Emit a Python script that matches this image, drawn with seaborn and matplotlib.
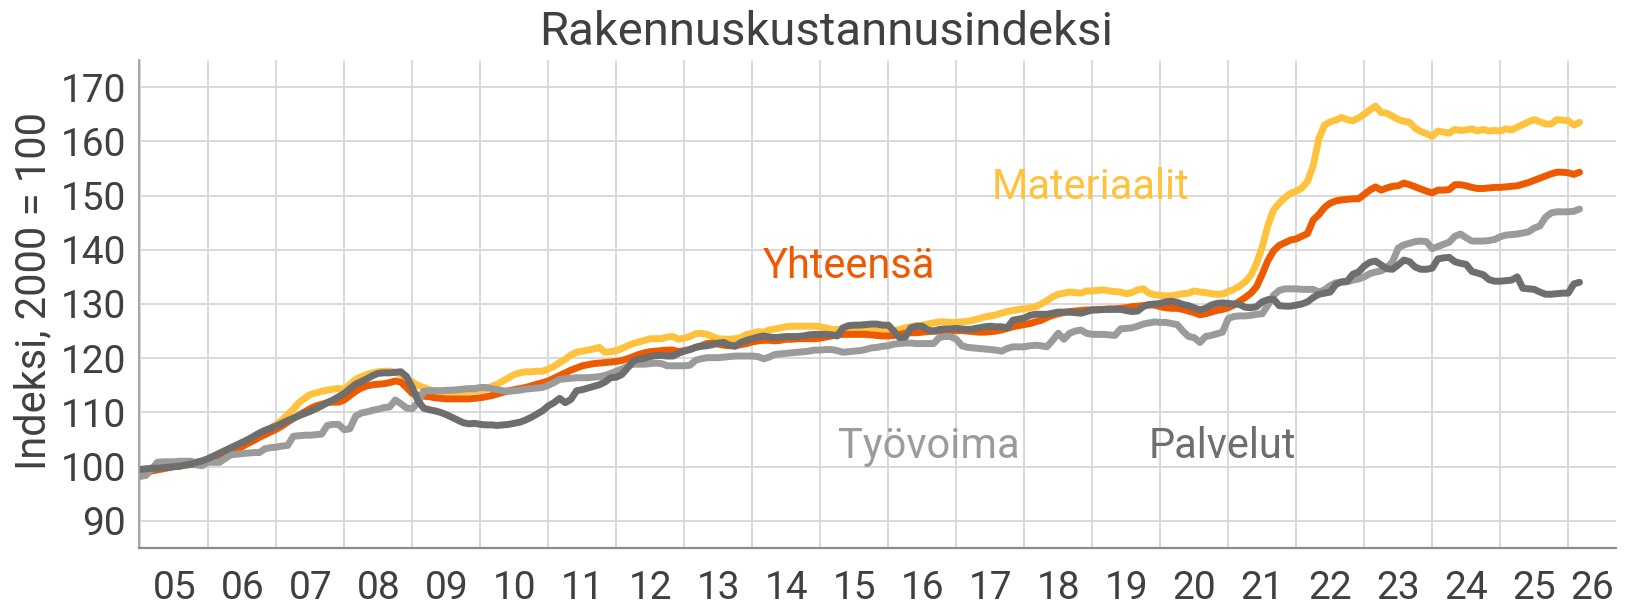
import matplotlib
matplotlib.use("Agg")
import matplotlib.pyplot as plt
import numpy as np
import pandas as pd
import seaborn as sns

# ---------------- data (monthly, Jan 2005 - Mar 2026) ----------------
series_names = ["Materiaalit", "Yhteensä", "Työvoima", "Palvelut"]

materiaalit = (
    [98.8, 99.3, 99.6, 99.8, 100.0, 100.2, 100.4, 100.5, 100.5, 100.7, 100.9, 101.0] +   # 2005
    [101.3, 101.8, 102.2, 102.7, 103.2, 103.7, 104.2, 104.8, 105.4, 105.9, 106.5, 107.1] +  # 2006
    [107.8, 108.6, 109.6, 110.6, 111.8, 112.6, 113.3, 113.6, 113.9, 114.1, 114.3, 114.4] +  # 2007
    [114.3, 115.2, 116.1, 116.6, 117.0, 117.3, 117.5, 117.6, 117.6, 117.4, 117.0, 116.2] +  # 2008
    [115.6, 115.0, 114.6, 114.2, 114.0, 113.9, 113.8, 113.7, 113.8, 113.8, 113.9, 114.0] +  # 2009
    [114.1, 114.3, 114.8, 115.2, 115.8, 116.4, 117.0, 117.3, 117.5, 117.5, 117.6, 117.6] +  # 2010
    [118.0, 118.5, 119.2, 119.8, 120.6, 121.1, 121.3, 121.5, 121.7, 122.0, 121.1, 121.2] +  # 2011
    [121.4, 121.8, 122.3, 122.7, 123.0, 123.3, 123.6, 123.6, 123.6, 123.9, 124.0, 123.5] +  # 2012
    [123.7, 124.0, 124.5, 124.6, 124.4, 124.0, 123.6, 123.5, 123.5, 123.6, 123.8, 124.4] +  # 2013
    [124.6, 124.9, 124.8, 125.2, 125.4, 125.6, 125.8, 125.9, 125.9, 125.9, 125.9, 125.9] +  # 2014
    [125.8, 125.6, 125.3, 125.3, 125.4, 125.5, 125.6, 125.6, 125.5, 125.4, 125.3, 125.2] +  # 2015
    [125.1, 125.0, 125.3, 125.6, 125.8, 126.0, 126.1, 126.3, 126.5, 126.7, 126.7, 126.6] +  # 2016
    [126.6, 126.7, 126.8, 127.0, 127.3, 127.6, 127.8, 128.0, 128.3, 128.6, 128.8, 129.0] +  # 2017
    [129.1, 129.3, 129.5, 130.0, 130.6, 131.3, 131.8, 132.0, 132.2, 132.1, 132.0, 132.4] +  # 2018
    [132.4, 132.5, 132.6, 132.4, 132.3, 132.2, 131.9, 132.1, 132.6, 132.8, 132.0, 131.7] +  # 2019
    [131.6, 131.5, 131.5, 131.7, 131.9, 132.0, 132.4, 132.2, 132.1, 131.9, 131.8, 131.8] +  # 2020
    [132.3, 132.7, 133.3, 134.1, 135.3, 137.5, 140.5, 144.5, 147.3, 148.6, 149.6, 150.4] +  # 2021
    [150.8, 151.4, 152.6, 155.5, 160.5, 163.0, 163.6, 163.9, 164.4, 164.0, 163.8, 164.3] +  # 2022
    [165.0, 165.8, 166.5, 165.3, 165.2, 164.6, 164.0, 163.7, 163.5, 162.4, 161.8, 161.4] +  # 2023
    [160.9, 161.9, 161.7, 161.5, 162.2, 162.0, 162.1, 162.3, 161.9, 162.2, 161.9, 162.0] +  # 2024
    [161.9, 162.3, 162.1, 162.6, 163.1, 163.6, 164.0, 163.6, 163.2, 163.2, 164.0, 163.9] +  # 2025
    [163.8, 163.0, 163.5]                                                                  # 2026
)

yhteensa = (
    [98.7, 98.9, 99.2, 99.4, 99.6, 99.8, 100.0, 100.1, 100.3, 100.4, 100.5, 100.6] +
    [100.8, 101.2, 101.7, 102.2, 102.7, 103.2, 103.7, 104.3, 104.8, 105.4, 105.9, 106.4] +
    [106.9, 107.5, 108.2, 108.9, 109.5, 110.1, 110.7, 111.2, 111.5, 111.8, 111.9, 111.9] +
    [112.3, 113.1, 113.9, 114.5, 114.9, 115.1, 115.2, 115.3, 115.5, 115.8, 115.6, 114.6] +
    [113.5, 113.2, 113.0, 112.9, 112.7, 112.6, 112.5, 112.5, 112.5, 112.5, 112.5, 112.6] +
    [112.7, 112.9, 113.1, 113.4, 113.7, 114.0, 114.2, 114.4, 114.6, 114.9, 115.2, 115.5] +
    [115.8, 116.3, 116.8, 117.3, 117.8, 118.2, 118.6, 118.8, 119.0, 119.1, 119.2, 119.3] +
    [119.4, 119.6, 119.9, 120.3, 120.7, 121.0, 121.2, 121.3, 121.4, 121.5, 121.5, 121.2] +
    [121.4, 121.6, 122.0, 122.3, 122.7, 122.8, 122.6, 122.4, 122.3, 122.3, 122.5, 122.7] +
    [123.0, 123.2, 123.3, 123.3, 123.2, 123.3, 123.5, 123.5, 123.6, 123.6, 123.6, 123.6] +
    [123.7, 123.9, 124.1, 124.3, 124.4, 124.4, 124.4, 124.4, 124.4, 124.3, 124.2, 124.1] +
    [124.1, 124.2, 124.4, 124.6, 124.7, 124.7, 124.8, 124.9, 125.0, 125.0, 125.0, 125.1] +
    [125.1, 125.1, 125.0, 124.9, 124.8, 124.8, 124.9, 125.0, 125.2, 125.5, 125.8, 126.0] +
    [126.2, 126.4, 126.7, 127.0, 127.5, 127.9, 128.2, 128.4, 128.6, 128.7, 128.8, 128.9] +
    [128.9, 129.0, 129.0, 129.1, 129.1, 129.2, 129.3, 129.5, 129.6, 129.7, 129.8, 129.8] +
    [129.5, 129.3, 129.2, 129.2, 129.0, 128.7, 128.4, 128.0, 128.2, 128.5, 128.8, 129.0] +
    [129.3, 129.8, 130.5, 131.2, 132.0, 133.2, 135.5, 138.0, 139.8, 140.8, 141.3, 141.8] +
    [142.0, 142.5, 143.0, 145.5, 146.5, 147.8, 148.6, 149.0, 149.2, 149.3, 149.4, 149.4] +
    [150.2, 151.0, 151.6, 151.0, 151.4, 151.7, 151.8, 152.3, 152.0, 151.6, 151.2, 150.8] +
    [150.5, 151.0, 151.0, 151.1, 152.0, 152.0, 151.8, 151.5, 151.3, 151.3, 151.4, 151.5] +
    [151.5, 151.6, 151.7, 151.8, 152.1, 152.4, 152.8, 153.2, 153.6, 154.0, 154.3, 154.3] +
    [154.2, 153.9, 154.3]
)

tyovoima = (
    [98.2, 98.4, 99.5, 100.8, 100.9, 100.9, 100.9, 101.0, 101.0, 101.0, 100.3, 100.2] +
    [100.9, 100.8, 100.8, 101.5, 102.2, 102.3, 102.4, 102.5, 102.6, 102.6, 103.3, 103.5] +
    [103.6, 103.8, 103.9, 105.6, 105.7, 105.8, 105.8, 105.9, 106.0, 107.6, 107.8, 107.8] +
    [106.8, 107.0, 109.3, 109.9, 110.1, 110.4, 110.6, 110.9, 111.0, 112.3, 111.6, 110.8] +
    [110.7, 111.8, 113.9, 114.0, 114.0, 114.0, 114.1, 114.1, 114.2, 114.3, 114.4, 114.4] +
    [114.6, 114.6, 114.4, 114.2, 114.0, 113.9, 114.0, 114.1, 114.3, 114.4, 114.5, 114.6] +
    [115.0, 115.5, 116.1, 116.2, 116.3, 116.4, 116.4, 116.4, 116.5, 116.6, 116.8, 117.2] +
    [117.6, 118.0, 118.5, 118.9, 118.9, 118.9, 119.0, 119.1, 119.0, 118.6, 118.6, 118.6] +
    [118.6, 118.7, 119.6, 119.9, 120.1, 120.1, 120.1, 120.2, 120.3, 120.4, 120.4, 120.4] +
    [120.4, 120.3, 119.9, 120.2, 120.7, 120.8, 120.9, 121.0, 121.1, 121.2, 121.3, 121.5] +
    [121.5, 121.6, 121.6, 121.4, 121.1, 121.2, 121.3, 121.4, 121.6, 121.9, 122.0, 122.2] +
    [122.3, 122.6, 122.7, 122.8, 122.8, 122.7, 122.7, 122.7, 122.7, 123.8, 124.0, 124.0] +
    [123.5, 122.3, 122.0, 121.9, 121.8, 121.7, 121.6, 121.5, 121.3, 121.8, 122.1, 122.1] +
    [122.1, 122.3, 122.4, 122.3, 122.1, 123.3, 124.6, 123.5, 124.6, 125.0, 125.2, 124.6] +
    [124.4, 124.4, 124.4, 124.3, 124.2, 125.4, 125.5, 125.6, 125.9, 126.3, 126.5, 126.7] +
    [126.6, 126.6, 126.4, 126.2, 125.0, 124.0, 123.8, 122.9, 124.0, 124.2, 124.5, 124.8] +
    [127.3, 127.7, 127.8, 127.8, 127.9, 128.1, 128.2, 129.8, 131.6, 132.5, 132.8, 132.8] +
    [132.8, 132.7, 132.7, 132.7, 132.2, 132.6, 133.4, 133.9, 134.0, 134.1, 134.4, 134.6] +
    [135.0, 135.6, 135.9, 136.1, 136.7, 137.8, 140.3, 140.9, 141.2, 141.5, 141.6, 141.5] +
    [140.2, 140.6, 141.0, 141.4, 142.5, 142.9, 142.2, 141.6, 141.6, 141.6, 141.7, 141.9] +
    [142.4, 142.7, 142.8, 142.9, 143.1, 143.3, 144.0, 144.4, 146.0, 146.8, 147.0, 147.0] +
    [147.0, 147.1, 147.5]
)

palvelut = (
    [99.5, 99.6, 99.7, 99.7, 99.8, 99.9, 100.0, 100.1, 100.3, 100.5, 100.8, 101.1] +
    [101.5, 102.0, 102.5, 103.0, 103.5, 104.0, 104.5, 105.0, 105.6, 106.2, 106.7, 107.1] +
    [107.5, 108.0, 108.5, 108.9, 109.4, 109.8, 110.2, 110.7, 111.2, 111.8, 112.3, 112.9] +
    [113.5, 114.4, 115.2, 115.7, 116.2, 116.8, 117.2, 117.3, 117.3, 117.4, 117.5, 116.6] +
    [114.6, 112.2, 110.8, 110.5, 110.3, 110.0, 109.6, 109.1, 108.6, 108.1, 107.9, 108.0] +
    [107.8, 107.7, 107.7, 107.6, 107.7, 107.8, 108.0, 108.2, 108.6, 109.1, 109.7, 110.3] +
    [111.2, 111.8, 112.6, 111.8, 112.4, 114.0, 114.2, 114.5, 114.8, 115.1, 115.6, 116.4] +
    [116.5, 117.0, 118.2, 119.5, 119.8, 120.0, 120.3, 120.5, 120.5, 120.4, 120.4, 120.9] +
    [121.3, 121.6, 122.0, 122.2, 122.3, 122.5, 122.8, 122.9, 122.4, 122.2, 122.9, 123.3] +
    [123.6, 123.9, 124.1, 123.9, 123.8, 123.9, 124.0, 124.0, 124.0, 124.1, 124.3, 124.4] +
    [124.4, 124.4, 124.3, 124.1, 125.6, 126.0, 126.1, 126.1, 126.2, 126.3, 126.3, 126.1] +
    [126.1, 125.0, 123.8, 123.9, 125.6, 125.9, 125.9, 125.2, 125.0, 125.3, 125.4, 125.4] +
    [125.5, 125.4, 125.3, 125.4, 125.6, 125.8, 125.9, 125.8, 125.8, 125.6, 127.0, 127.2] +
    [127.4, 127.9, 128.1, 128.1, 128.1, 128.3, 128.5, 128.5, 128.5, 128.4, 128.3, 128.6] +
    [128.9, 128.9, 129.0, 129.0, 129.0, 129.0, 128.8, 128.6, 128.7, 129.5, 129.9, 130.0] +
    [130.1, 130.4, 130.5, 130.3, 129.9, 129.7, 129.3, 128.9, 129.2, 129.8, 130.1, 130.2] +
    [130.1, 130.0, 129.9, 129.4, 129.3, 129.5, 130.4, 130.8, 130.9, 129.7, 129.6, 129.6] +
    [129.8, 130.0, 130.4, 131.2, 131.8, 132.0, 132.2, 133.6, 134.1, 134.2, 135.5, 135.9] +
    [137.0, 137.7, 137.9, 137.2, 136.5, 136.4, 137.2, 138.1, 137.8, 136.8, 136.4, 136.4] +
    [136.6, 138.3, 138.5, 138.6, 137.8, 137.5, 137.3, 136.0, 135.7, 135.4, 134.5, 134.2] +
    [134.2, 134.3, 134.4, 135.0, 132.9, 132.8, 132.7, 132.2, 131.8, 131.8, 131.9, 132.0] +
    [132.0, 133.7, 134.0]
)

year_labels = ["05", "06", "07", "08", "09", "10", "11", "12", "13", "14", "15",
               "16", "17", "18", "19", "20", "21", "22", "23", "24", "25", "26"]
y_ticks = [90, 100, 110, 120, 130, 140, 150, 160, 170]

# ---------------- styling ----------------
colors = {
    "Materiaalit": "#FFC23C",
    "Yhteensä": "#EE5A00",
    "Työvoima": "#9B9B9B",
    "Palvelut": "#6E6E6E",
}
text_col = "#404040"

sns.set_theme(style="white")
plt.rcParams["font.family"] = ["Roboto", "DejaVu Sans"]

n = len(materiaalit)
x = 2005 + np.arange(n) / 12.0
frames = []
for name, vals in zip(series_names, [materiaalit, yhteensa, tyovoima, palvelut]):
    assert len(vals) == n
    frames.append(pd.DataFrame({"x": x, "value": vals, "series": name}))
df = pd.concat(frames, ignore_index=True)

fig = plt.figure(figsize=(16.30, 6.07), dpi=100)
ax = fig.add_axes([0.0851, 0.0972, 0.9066, 0.8040])

sns.lineplot(data=df, x="x", y="value", hue="series", hue_order=series_names,
             palette=colors, linewidth=5.0, legend=False, ax=ax,
             solid_joinstyle="round", solid_capstyle="round")

x0, x1 = 2004.977, 2026.71
ax.set_xlim(x0, x1)
ax.set_ylim(85, 175)

# grid
years = np.arange(2005, 2027)
for yv in y_ticks:
    ax.axhline(yv, color="#D9D9D9", lw=1.4, zorder=0)
for yr in years:
    ax.axvline(yr, color="#D9D9D9", lw=1.4, zorder=0)

ax.set_yticks(y_ticks)
ax.set_yticklabels([str(v) for v in y_ticks])
centers = [(max(yr, x0) + min(yr + 1, x1)) / 2 for yr in years]
ax.set_xticks(centers)
ax.set_xticklabels(year_labels)
ax.tick_params(axis="both", length=0, colors=text_col)
ax.tick_params(axis="x", pad=16, labelsize=28)
ax.tick_params(axis="y", pad=9, labelsize=28)

for s in ["top", "right"]:
    ax.spines[s].set_visible(False)
ax.spines["left"].set_color("#A6A6A6")
ax.spines["left"].set_linewidth(1.4)
ax.spines["bottom"].set_color("#8C8C8C")
ax.spines["bottom"].set_linewidth(1.6)

ax.set_xlabel("")
ax.set_ylabel("")
fig.text(0.021, 0.5206, "Indeksi, 2000 = 100", rotation=90, ha="center",
         va="center", fontsize=30, color=text_col)

# series labels
ax.text(2018.97, 149.4, "Materiaalit", color=colors["Materiaalit"], fontsize=30,
        ha="center", va="baseline")
ax.text(2015.42, 134.8, "Yhteensä", color=colors["Yhteensä"], fontsize=30,
        ha="center", va="baseline")
ax.text(2016.6, 101.6, "Työvoima", color=colors["Työvoima"], fontsize=30,
        ha="center", va="baseline")
ax.text(2020.92, 101.6, "Palvelut", color=colors["Palvelut"], fontsize=30,
        ha="center", va="baseline")

fig.text(0.507, 0.926, "Rakennuskustannusindeksi", ha="center", va="baseline",
         fontsize=34, color=text_col)

fig.savefig("out.png", dpi=100, facecolor="white")
